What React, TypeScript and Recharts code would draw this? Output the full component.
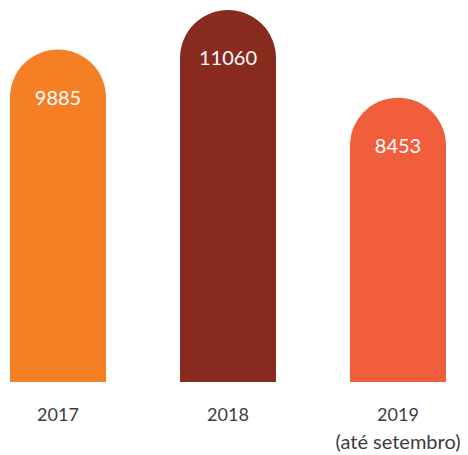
import React from 'react';
import { BarChart, Bar, XAxis, YAxis, Cell, LabelList } from 'recharts';

const categories = ['2017', '2018', '2019'];
const subLabels = ['', '', '(até setembro)'];
const values = [9885, 11060, 8453];
const colors = ['#F47F25', '#892A1E', '#F15E3B'];

const data = categories.map((c, i) => ({ name: c, sub: subLabels[i], value: values[i] }));

const FONT = 'Lato, "Open Sans", sans-serif';

const Tick = (props: any) => {
  const { x, y, payload, index } = props;
  const sub = subLabels[index];
  return (
    <g>
      <text x={x} y={y + 39} textAnchor="middle" fill="#3d3d3d" fontSize={18} fontFamily={FONT}>
        {payload.value}
      </text>
      {sub ? (
        <text x={x} y={y + 67} textAnchor="middle" fill="#3d3d3d" fontSize={20} fontFamily={FONT}>
          {sub}
        </text>
      ) : null}
    </g>
  );
};

const ValueLabel = (props: any) => {
  const { x, y, width, value } = props;
  return (
    <text x={x + width / 2} y={y + width / 2 + 7} textAnchor="middle" fill="#ffffff" fontSize={20} fontFamily={FONT}>
      {value}
    </text>
  );
};

export default function App() {
  return (
    <div style={{ position: 'absolute', left: 0, top: 0, background: '#fff' }}>
      <BarChart
        width={468}
        height={455}
        data={data}
        margin={{ top: 10, right: -15, bottom: 0, left: -27 }}
        barSize={96}
      >
        <XAxis
          dataKey="name"
          axisLine={false}
          tickLine={false}
          tickSize={0}
          tickMargin={0}
          height={73}
          interval={0}
          tick={<Tick />}
        />
        <YAxis hide domain={[0, 'dataMax']} />
        <Bar dataKey="value" radius={[48, 48, 0, 0]} isAnimationActive={false}>
          {data.map((d, i) => (
            <Cell key={d.name} fill={colors[i]} />
          ))}
          <LabelList dataKey="value" content={<ValueLabel />} />
        </Bar>
      </BarChart>
    </div>
  );
}
